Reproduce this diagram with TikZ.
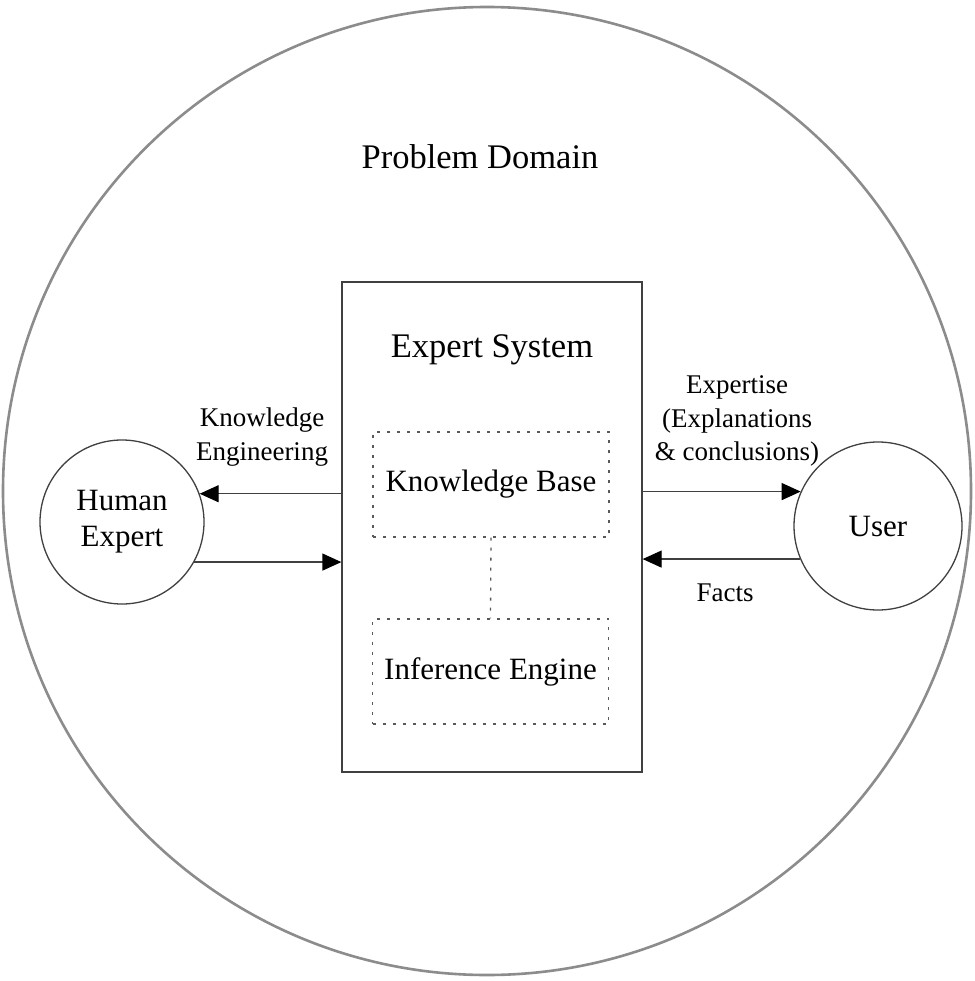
\documentclass[tikz,border=0pt]{standalone}
\usepackage{fontspec}
\setmainfont{Liberation Serif}
\usetikzlibrary{arrows.meta}
\begin{document}
\begin{tikzpicture}[x=1pt,y=-1pt,
  line/.style={draw=black!75, line width=1.3pt},
  arr/.style={line, -{Triangle[length=19pt,width=17pt,color=black]}},
  dotbox/.style={draw=black!65, line width=1.3pt, dash pattern=on 3pt off 7pt, minimum width=236pt, minimum height=105pt, inner sep=0pt},
  circ/.style={circle, line, inner sep=0pt, align=center},
  boxtext/.style={font=\fontsize{31}{36}\selectfont},
  lbl/.style={font=\fontsize{27}{33.5}\selectfont, align=center},
  title/.style={font=\fontsize{34.5}{40}\selectfont}
]
\useasboundingbox (0,0) rectangle (974,981);
\fill[white] (0,0) rectangle (974,981);
% problem domain
\node[circle, draw=black!45, line width=2.6pt, minimum size=968pt, inner sep=0pt] (pd) at (487,491) {};
\node[title] (pdt) at (480,157) {Problem Domain};
% expert system
\node[line, minimum width=300pt, minimum height=490pt, inner sep=0pt] (es) at (492,527) {};
\node[title] (est) at (492,350) {Expert System};
\node[dotbox, boxtext] (kb) at (491,484.5) {Knowledge Base};
\node[dotbox, boxtext] (ie) at (490.5,671.5) {Inference Engine};
\draw[draw=black!65, line width=1.3pt, dash pattern=on 3pt off 7pt] (kb.south) -- (ie.north);
% actors
\node[circ, boxtext, minimum size=164pt] (he) at (122,522) {Human\\Expert};
\node[circ, boxtext, minimum size=168pt] (u) at (878,526) {User};
% connectors
\draw[arr] (es.west |- he.20.7) -- (he.20.7);
\draw[arr] (he.-29.2) -- (es.west |- he.-29.2);
\draw[arr] (es.east |- u.156.9) -- (u.156.9);
\draw[arr] (u.203.1) -- (es.east |- u.203.1);
% labels
\node[lbl] (kel) at (262,437) {Knowledge\\Engineering};
\node[lbl] (exl) at (737,421) {Expertise\\(Explanations\\\& conclusions)};
\node[lbl] (fl) at (725,593) {Facts};
\end{tikzpicture}
\end{document}
